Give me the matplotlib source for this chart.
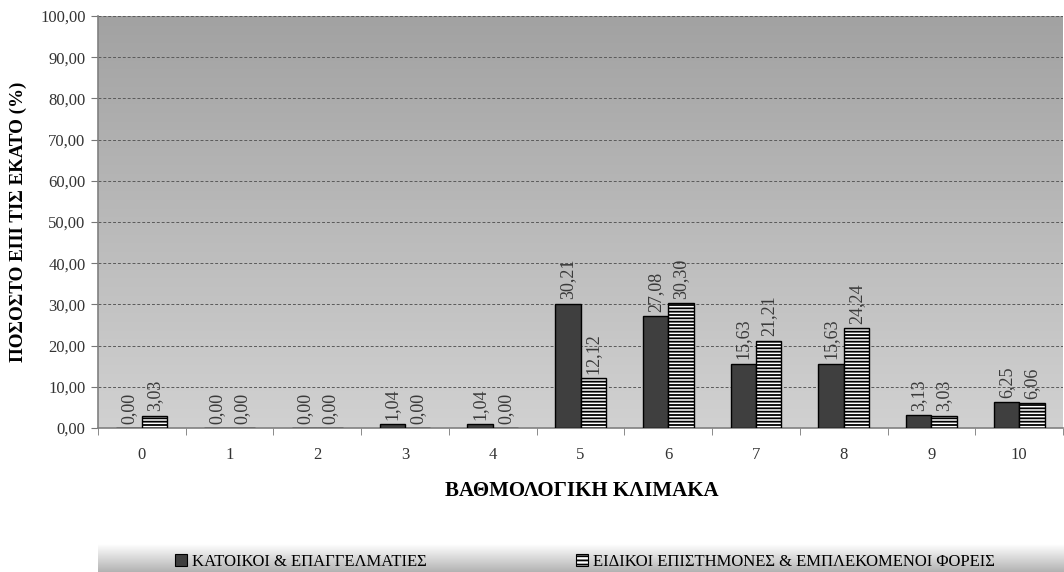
import numpy as np
import matplotlib
matplotlib.use("Agg")
import matplotlib.pyplot as plt
from matplotlib.patches import Patch

categories = ["0", "1", "2", "3", "4", "5", "6", "7", "8", "9", "10"]
residents = [0.00, 0.00, 0.00, 1.04, 1.04, 30.21, 27.08, 15.63, 15.63, 3.13, 6.25]
experts = [3.03, 0.00, 0.00, 0.00, 0.00, 12.12, 30.30, 21.21, 24.24, 3.03, 6.06]
series_names = ["ΚΑΤΟΙΚΟΙ & ΕΠΑΓΓΕΛΜΑΤΙΕΣ", "ΕΙΔΙΚΟΙ ΕΠΙΣΤΗΜΟΝΕΣ & ΕΜΠΛΕΚΟΜΕΝΟΙ ΦΟΡΕΙΣ"]
y_ticks = [0, 10, 20, 30, 40, 50, 60, 70, 80, 90, 100]

plt.rcParams['font.family'] = ['Liberation Serif', 'DejaVu Serif']
plt.rcParams['hatch.linewidth'] = 1.3

W, H = 1064, 572
fig = plt.figure(figsize=(W / 100, H / 100), dpi=100)
L, R, T, B = 98, 1063, 16, 428
ax = fig.add_axes([L / W, 1 - B / H, (R - L) / W, (B - T) / H])

# gradient background of plot area
grad = np.linspace(0.82, 0.635, 256).reshape(-1, 1)
ax.imshow(np.dstack([grad, grad, grad]), extent=[0, 1, 0, 1], transform=ax.transAxes,
          aspect='auto', origin='lower', zorder=0)

x = np.arange(len(categories))
w = 0.29
b1 = ax.bar(x - w / 2, residents, w, color='#3f3f3f', edgecolor='black', linewidth=1.0, zorder=3)
b2 = ax.bar(x + w / 2, experts, w, color='white', edgecolor='black', linewidth=1.0,
            hatch='-----', zorder=3)

def fmt(v):
    return f"{v:.2f}".replace('.', ',')

for bars, vals in ((b1, residents), (b2, experts)):
    for rect, v in zip(bars, vals):
        ax.annotate(fmt(v), (rect.get_x() + rect.get_width() / 2, rect.get_height()),
                    xytext=(0, 3), textcoords='offset points', rotation=90,
                    ha='center', va='bottom', fontsize=13, color='#3a3a3a', zorder=4)

ax.set_xlim(-0.5, len(categories) - 0.5)
ax.set_ylim(0, 100)
ax.set_yticks(y_ticks)
ax.set_yticklabels([fmt(t) for t in y_ticks], fontsize=12, color='#333333')
ax.set_xticks(x)
ax.set_xticklabels(categories, fontsize=12, color='#333333')
ax.set_xticks(np.arange(-0.5, len(categories), 1), minor=True)
ax.tick_params(axis='x', which='major', length=0, pad=14)
ax.tick_params(axis='x', which='minor', length=5, color='#777777', direction='out')
ax.tick_params(axis='y', length=5, color='#777777', direction='out', pad=4)

ax.grid(axis='y', linestyle=(0, (3, 2)), color='#5a5a5a', linewidth=0.7, zorder=1)
ax.set_axisbelow(True)
for s in ('top', 'right'):
    ax.spines[s].set_visible(False)
for s in ('left', 'bottom'):
    ax.spines[s].set_color('#808080')
    ax.spines[s].set_linewidth(1.2)

ax.set_ylabel("ΠΟΣΟΣΤΟ ΕΠΙ ΤΙΣ ΕΚΑΤΟ (%)", fontsize=13.7, fontweight='bold', labelpad=9)
fig.text(582 / W, 1 - 491 / H, "ΒΑΘΜΟΛΟΓΙΚΗ ΚΛΙΜΑΚΑ", fontsize=15, fontweight='bold',
         ha='center', va='center')

# legend band with gradient
lax = fig.add_axes([L / W, 0, 1 - L / W, 28 / H])
lg = np.linspace(0.70, 1.0, 64).reshape(-1, 1)
lax.imshow(np.dstack([lg, lg, lg]), extent=[0, 1, 0, 1], aspect='auto', origin='lower')
lax.axis('off')

h1 = Patch(facecolor='#3f3f3f', edgecolor='black', linewidth=0.8)
h2 = Patch(facecolor='white', edgecolor='black', linewidth=0.8, hatch='----')
leg1 = fig.legend([h1], [series_names[0]], loc='center left',
                  bbox_to_anchor=(167 / W, 1 - 562 / H), frameon=False, fontsize=12,
                  handlelength=0.7, handleheight=0.7, handletextpad=0.3, borderpad=0)
leg2 = fig.legend([h2], [series_names[1]], loc='center left',
                  bbox_to_anchor=(568 / W, 1 - 562 / H), frameon=False, fontsize=12,
                  handlelength=0.7, handleheight=0.7, handletextpad=0.3, borderpad=0)

fig.savefig("out.png", dpi=100)
